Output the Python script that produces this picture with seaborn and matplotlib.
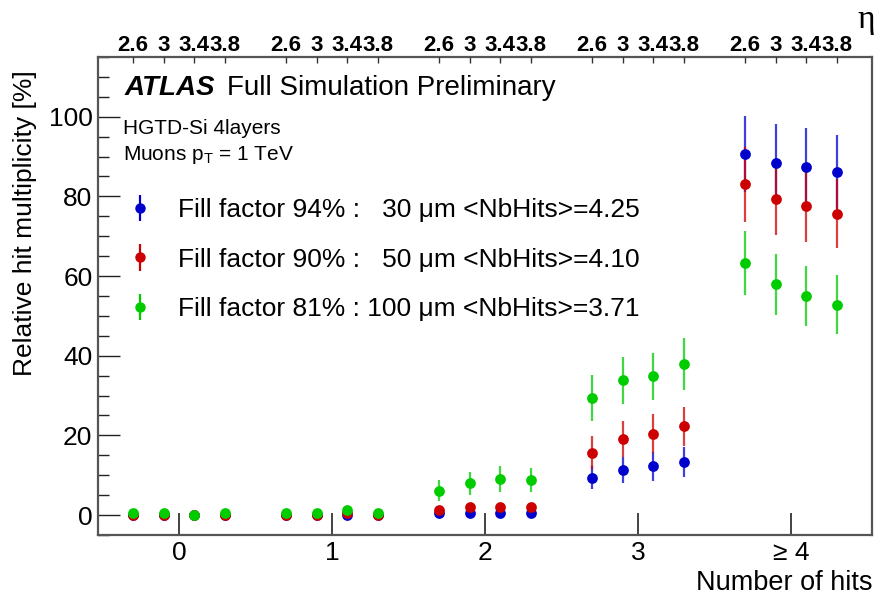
import numpy as np
import pandas as pd
import matplotlib
matplotlib.use("Agg")
import matplotlib.pyplot as plt
import seaborn as sns
from matplotlib.ticker import MultipleLocator

# ---------------- data ----------------
hit_labels = ["0", "1", "2", "3", "\u2265 4"]
hit_pos = [0, 1, 2, 3, 4]
eta_labels = ["2.6", "3", "3.4", "3.8"]
eta_offsets = [-0.3, -0.1, 0.1, 0.3]

series_names = [
    "Fill factor 94% :   30 \u03bcm <NbHits>=4.25",
    "Fill factor 90% :   50 \u03bcm <NbHits>=4.10",
    "Fill factor 81% : 100 \u03bcm <NbHits>=3.71",
]

blue_vals = [0, 0, 0, 0,   0, 0, 0, 0,   0.4, 0.6, 0.6, 0.6,
             9.4, 11.3, 12.2, 13.4,   90.7, 88.5, 87.5, 86.2]
blue_err = [0.1, 0.1, 0.1, 0.1,   0.1, 0.1, 0.1, 0.1,   0.5, 0.5, 0.5, 0.5,
            2.9, 3.35, 3.6, 3.8,   9.6, 9.6, 9.7, 9.3]

red_vals = [0.1, 0.1, 0.0, 0.1,   0.1, 0.1, 0.5, 0.1,   1.4, 2.1, 2.1, 2.1,
            15.7, 19.1, 20.4, 22.3,   83.0, 79.3, 77.7, 75.7]
red_err = [0.2, 0.2, 0.2, 0.2,   0.2, 0.2, 0.5, 0.2,   1.0, 1.0, 1.0, 1.0,
           4.2, 4.6, 4.9, 4.9,   9.3, 9.0, 9.1, 8.7]

green_vals = [0.6, 0.4, 0.1, 0.4,   0.6, 0.6, 1.4, 0.4,   6.1, 8.0, 9.1, 8.7,
              29.4, 33.8, 34.8, 37.9,   63.3, 57.9, 55.0, 52.8]
green_err = [0.5, 0.5, 0.5, 0.5,   0.5, 0.5, 0.8, 0.5,   2.6, 2.9, 3.2, 3.0,
             5.75, 6.0, 6.0, 6.5,   8.06, 7.7, 7.6, 7.4]

colors = ["#0000cc", "#cc0000", "#00cc00"]

# ---------------- table ----------------
xs = [h + o for h in hit_pos for o in eta_offsets]
rows = []
for name, vals, errs in zip(series_names,
                            [blue_vals, red_vals, green_vals],
                            [blue_err, red_err, green_err]):
    for x, v, e in zip(xs, vals, errs):
        rows.append({"x": x, "value": v, "err": e, "series": name})
df = pd.DataFrame(rows)

# ---------------- style ----------------
sns.set_theme(style="ticks")
plt.rcParams["font.family"] = ["Liberation Sans", "DejaVu Sans"]
plt.rcParams["mathtext.fontset"] = "custom"
plt.rcParams["mathtext.rm"] = "Liberation Sans"
plt.rcParams["text.color"] = "black"
plt.rcParams["axes.labelcolor"] = "black"
plt.rcParams["xtick.labelcolor"] = "black"
plt.rcParams["ytick.labelcolor"] = "black"

fig = plt.figure(figsize=(8.77, 5.99), dpi=100)
ax = fig.add_axes([98 / 877, 1 - 535 / 599, (872 - 98) / 877, (535 - 57) / 599])

for name, c in zip(series_names, colors):
    sub = df[df["series"] == name]
    ax.errorbar(sub["x"], sub["value"], yerr=sub["err"], fmt="none",
                ecolor=c, elinewidth=1.6, alpha=0.75, capsize=0, zorder=2)
    sns.scatterplot(data=sub, x="x", y="value", ax=ax, color=c, s=60,
                    edgecolor=c, linewidth=0, zorder=3, legend=False)

# legend handles (errorbar style)
handles = []
for name, c in zip(series_names, colors):
    h = ax.errorbar([], [], yerr=[], fmt="o", color=c, ms=6.5,
                    ecolor=c, elinewidth=1.6, capsize=0, label=name)
    handles.append(h)
leg = fig.legend(handles=handles, labels=series_names, loc="upper left",
                 bbox_to_anchor=(127 / 877, 1 - 198 / 599), frameon=False,
                 fontsize=19, handlelength=1.0, handletextpad=0.94,
                 labelspacing=0.97, borderpad=0, borderaxespad=0)

ax.set_xlim(-0.53, 4.53)
ax.set_ylim(-5, 115)
ax.set_xticks(hit_pos)
ax.set_xticklabels(hit_labels)
ax.yaxis.set_minor_locator(MultipleLocator(5))
ax.set_yticks([0, 20, 40, 60, 80, 100])
ax.tick_params(axis="x", direction="in", length=16, width=1.2, labelsize=19,
               pad=4, colors="#222222", labelcolor="black")
ax.tick_params(axis="y", which="major", direction="in", length=16, width=1.0,
               labelsize=19, pad=4, colors="#222222", labelcolor="black")
ax.tick_params(axis="y", which="minor", direction="in", length=8, width=1.0,
               colors="#222222")
ax.set_xlabel("")
ax.set_ylabel("")
for sp in ax.spines.values():
    sp.set_color("#555555")
    sp.set_linewidth(1.6)

# top eta axis
ax2 = ax.twiny()
ax2.set_xlim(ax.get_xlim())
ax2.set_xticks(xs)
ax2.set_xticklabels(eta_labels * len(hit_pos), fontweight="bold")
ax2.tick_params(axis="x", direction="in", length=4, width=1.0, labelsize=16,
                pad=1, colors="#333333", labelcolor="black")
for sp in ax2.spines.values():
    sp.set_visible(False)

# texts
fig.text(125 / 877, 1 - 88 / 599, "ATLAS", fontsize=20, fontweight="bold",
         fontstyle="italic", va="center", ha="left")
fig.text(227 / 877, 1 - 88 / 599, "Full Simulation Preliminary", fontsize=20,
         va="center", ha="left")
fig.text(123 / 877, 1 - 128 / 599, "HGTD-Si 4layers", fontsize=15,
         va="center", ha="left")
fig.text(123 / 877, 1 - 155 / 599, r"Muons $\mathregular{p_{T}}$ = 1 TeV",
         fontsize=15, va="center", ha="left")

fig.text(25 / 877, 1 - 70 / 599, "Relative hit multiplicity [%]", fontsize=19,
         rotation=90, ha="center", va="top")
fig.text(872 / 877, 1 - 583 / 599, "Number of hits", fontsize=19.5,
         ha="right", va="center")
fig.text(866 / 877, 1 - 20 / 599, "\u03b7", fontsize=24,
         family=["Liberation Serif", "DejaVu Serif"], ha="center", va="center")

fig.savefig("out.png", dpi=100)
